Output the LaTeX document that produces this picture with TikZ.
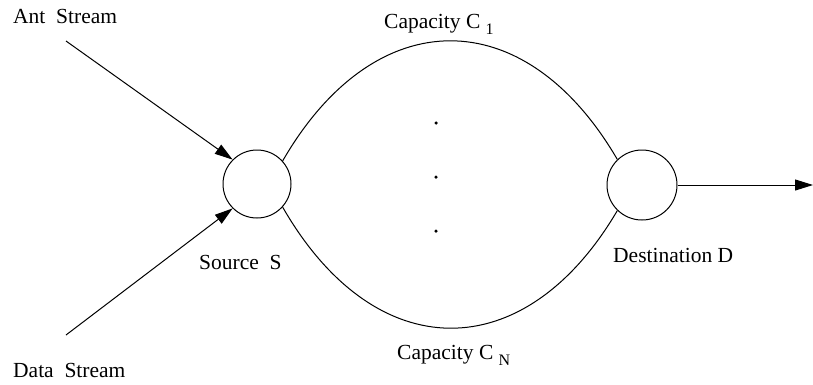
\documentclass[tikz,border=0pt]{standalone}
\usepackage{fontspec}
\setmainfont{Liberation Serif}
\usetikzlibrary{arrows.meta}
\tikzset{
  lbl/.style={anchor=base west, inner sep=0pt, font=\fontsize{21.5}{23}\selectfont},
  hub/.style={circle, draw, line width=1pt, inner sep=0pt},
  link/.style={line width=1pt},
  flow/.style={line width=1pt, -{Triangle[length=18pt,width=11pt]}},
  dot/.style={circle, fill, inner sep=0pt, minimum size=3.5pt},
}
\newcommand{\sbs}[1]{\raisebox{-6pt}{\fontsize{16}{17}\selectfont #1}}
\begin{document}
\begin{tikzpicture}[x=1pt,y=-1pt]
\useasboundingbox (0,0) rectangle (813,384);
\node[hub, minimum size=68pt] (S) at (257,184) {};
\node[hub, minimum size=70pt] (D) at (642,185) {};
\coordinate (ant) at (66,41);
\coordinate (data) at (66,335);
\coordinate (out) at (813,185);
\node[lbl] (antl) at (13,23) {Ant\ \ Stream};
\node[lbl] (datal) at (13,377) {Data\ \ Stream};
\node[lbl] (srcl) at (199,269) {Source\ \ S};
\node[lbl] (dstl) at (613,262) {Destination D};
\node[lbl] (c1) at (384,28) {Capacity C \sbs{1}};
\node[lbl] (cn) at (397,359) {Capacity C \sbs{N}};
\node[dot] (d1) at (436,123) {};
\node[dot] (d2) at (436,177) {};
\node[dot] (d3) at (436,231) {};
\draw[flow] (ant) -- (S.135);
\draw[flow] (data) -- (S.225);
\draw[flow] (D.east) -- (out);
\draw[link] (S.42) .. controls (375,1) and (525,1) .. (D.134);
\draw[link] (S.-42) .. controls (375,368) and (525,368) .. (D.-134);
\end{tikzpicture}
\end{document}
